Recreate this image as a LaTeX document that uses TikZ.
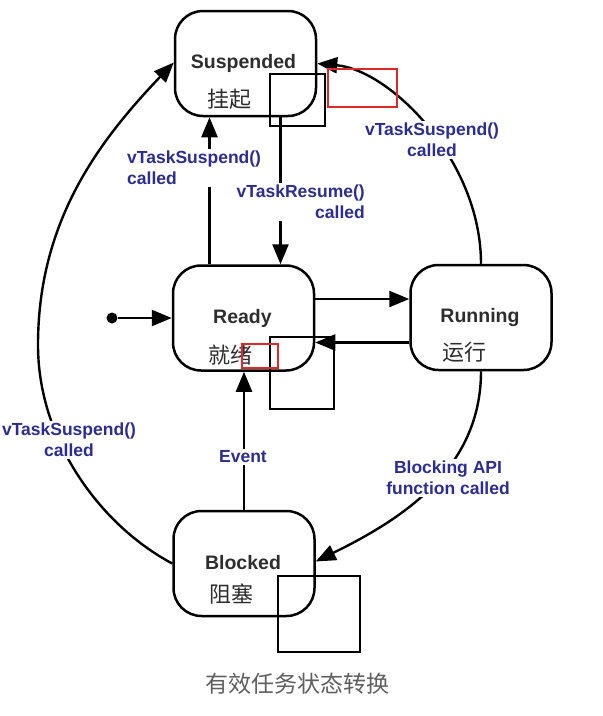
\documentclass[tikz,border=0pt]{standalone}
\usepackage{fontspec}
\setmainfont{Liberation Sans}
\newfontfamily\cjk{Noto Sans CJK SC}
\usepackage{xcolor}
\usetikzlibrary{arrows.meta, positioning, calc}
\definecolor{lblblue}{RGB}{44,44,150}
\definecolor{txtgray}{RGB}{45,45,45}
\definecolor{capgray}{RGB}{95,95,95}
\definecolor{markred}{RGB}{225,40,40}

\begin{document}
\begin{tikzpicture}[x=1pt, y=-1pt,
    statebox/.style={draw, line width=2.5pt, rounded corners=28pt, minimum width=141pt, minimum height=105pt},
    en/.style={font=\fontsize{19.5}{22}\selectfont\bfseries, text=txtgray, text height=14pt, text depth=0pt, inner sep=0pt},
    zh/.style={font=\cjk\fontsize{22}{24}\selectfont, text=txtgray, inner sep=0pt},
    lbl/.style={font=\fontsize{17.5}{21}\selectfont\bfseries, text=lblblue, fill=white, inner sep=2pt},
    arr/.style={line width=2.4pt, -{Triangle[length=20pt, width=16pt]}},
    markbox/.style={line width=2.2pt}]
    \useasboundingbox (0,0) rectangle (603,716);

    % 四个状态
    \node[statebox] (susp) at (245.5,63.5) {};
    \node[statebox] (ready) at (243.5,318) {};
    \node[statebox] (run) at (481,317.5) {};
    \node[statebox] (block) at (244,563.5) {};

    \node[en] (suspT) at ($(susp)+(-2,-2)$) {Suspended};
    \node[zh] (suspZ) at ($(susp)+(-16,36)$) {挂起};
    \node[en] (readyT) at ($(ready)+(-1,-2)$) {Ready};
    \node[zh] (readyZ) at ($(ready)+(-13,37)$) {就绪};
    \node[en] (runT) at ($(run)+(-1,-2)$) {Running};
    \node[zh] (runZ) at ($(run)+(-17,35)$) {运行};
    \node[en] (blockT) at ($(block)+(-1,-1)$) {Blocked};
    \node[zh] (blockZ) at ($(block)+(-13,31)$) {阻塞};

    % 初始状态
    \node[circle, fill, inner sep=0pt, minimum size=11pt] (init) at (112,318) {};
    \draw[arr] (init) -- (ready.west);

    % 直线转换
    \coordinate (rs) at ($(ready.north)+(-34,0)$);
    \draw[arr] (rs) -- (rs |- susp.south);
    \coordinate (sr) at ($(susp.south)+(35,0)$);
    \draw[arr] (sr) -- (sr |- ready.north);
    \coordinate (rr1) at ($(ready.east)+(0,-19)$);
    \draw[arr] (rr1) -- (rr1 -| run.west);
    \coordinate (rr2) at ($(run.west)+(0,25)$);
    \draw[arr] (rr2) -- (rr2 -| ready.east);
    \draw[arr] (block.north) -- (block.north |- ready.south);

    % 弧线转换
    \draw[arr] (run.north) .. controls (481,160) and (390,70) .. (susp.east);
    \draw[arr] (run.south) .. controls (481,470) and (400,520) .. ($(block.east)+(0,-2)$);
    \draw[arr] (block.west) .. controls (100,525) and (38,440) .. (38,345)
        .. controls (38,220) and (100,140) .. ($(susp.west)+(0,-1)$);

    % 标签
    \node[lbl, anchor=west, align=left] (l1) at (125,168) {vTaskSuspend()\\called};
    \node[lbl, anchor=east, align=right] (l2) at (367,202) {vTaskResume()\\called};
    \node[lbl, align=center] (l3) at (432,140) {vTaskSuspend()\\called};
    \node[lbl, align=center] (l4) at (69,440) {vTaskSuspend()\\called};
    \node[lbl] (l5) at (243,457) {Event};
    \node[lbl, align=center] (l6) at (448,478) {Blocking API\\function called};

    % 标注框
    \draw[markbox] (270,74) rectangle (325,126);
    \draw[markbox, markred] (328,69) rectangle (397,107);
    \draw[markbox] (270,337) rectangle (334,409);
    \draw[markbox, markred] (242,344) rectangle (278,368);
    \draw[markbox] (278,576) rectangle (360,652);

    \node[font=\cjk\fontsize{23}{25}\selectfont, text=capgray] (cap) at (297,684) {有效任务状态转换};
\end{tikzpicture}
\end{document}
